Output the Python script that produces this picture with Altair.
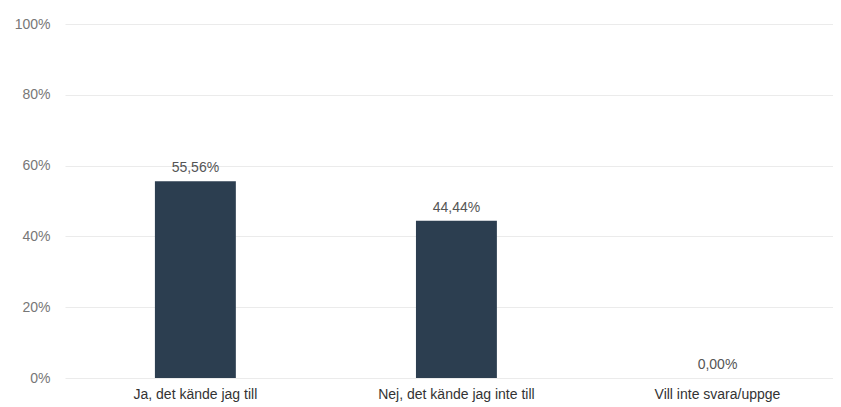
import altair as alt
import pandas as pd

categories = ["Ja, det kände jag till", "Nej, det kände jag inte till", "Vill inte svara/uppge"]
values = [55.56, 44.44, 0.0]
y_ticks = [0, 20, 40, 60, 80, 100]

labels = [f"{v:.2f}".replace(".", ",") + "%" for v in values]
df = pd.DataFrame({"cat": categories, "val": values, "label": labels})

x = alt.X("cat:N", sort=categories, title=None,
          scale=alt.Scale(paddingInner=0.69, paddingOuter=0.316, align=0.545),
          axis=alt.Axis(labelAngle=0, ticks=False, domain=False, labelPadding=9,
                        labelFont="Liberation Sans", labelFontSize=14, labelColor="#333333"))
y = alt.Y("val:Q", title=None,
          scale=alt.Scale(domain=[0, 100], nice=False),
          axis=alt.Axis(values=y_ticks, labelExpr="datum.value + '%'", ticks=False, domain=False,
                        labelPadding=15, labelFont="Liberation Sans", labelFontSize=14,
                        labelColor="#777777", gridColor="#ebebeb", gridWidth=1))

bars = alt.Chart(df).mark_bar(color="#2c3e50").encode(x=x, y=y)
text = alt.Chart(df).mark_text(dy=-13, font="Liberation Sans", fontSize=14, color="#555555").encode(
    x=alt.X("cat:N", sort=categories), y="val:Q", text="label:N")

chart = (bars + text).properties(
    width=768, height=354,
    autosize=alt.AutoSizeParams(type="none"),
    padding={"left": 57, "top": 16, "right": 0, "bottom": 24},
).configure_view(stroke=None)

chart.save("out.html", embed_options={"renderer": "svg", "actions": False})
